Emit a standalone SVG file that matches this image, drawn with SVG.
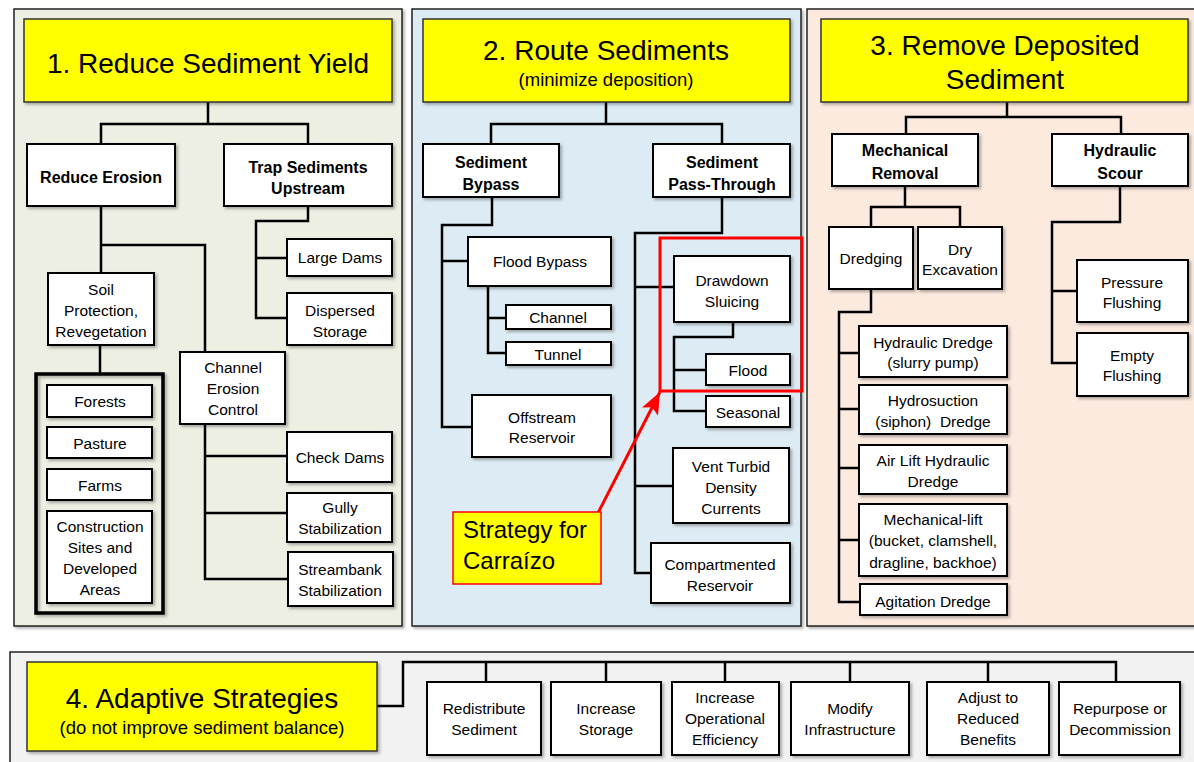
<svg xmlns="http://www.w3.org/2000/svg" width="1194" height="762" viewBox="0 0 1194 762">
<defs>
<filter id="sh" x="-10%" y="-10%" width="130%" height="130%"><feDropShadow dx="2" dy="2" stdDeviation="1.5" flood-color="#000" flood-opacity="0.3"/></filter>
<marker id="ah" markerUnits="userSpaceOnUse" markerWidth="24" markerHeight="20" refX="22" refY="9" orient="auto"><path d="M0,0 L22,9 L0,18 L5,9 Z" fill="#FF0000"/></marker>
<style>
.panel{stroke:#222;stroke-width:1.5;filter:url(#sh)}
.box{fill:#fff;stroke:#000;stroke-width:2;filter:url(#sh)}
.title{fill:#FFFF00;stroke:#333;stroke-width:1.5;filter:url(#sh)}
.conn{fill:none;stroke:#000;stroke-width:2.5;stroke-linejoin:miter}
text{font-family:"Liberation Sans",Arial,sans-serif;fill:#000;text-anchor:middle}
.t{font-size:15.5px}
.b{font-size:16px;font-weight:bold}
.h{font-size:28px}
.s{font-size:18.5px}
.st{font-size:24px;text-anchor:start}
</style>
</defs>
<g id="panels">
<rect class="panel" x="14" y="9" width="388" height="617" fill="#ECEFE2"/>
<rect class="panel" x="412" y="9" width="389" height="617" fill="#DDEBF4"/>
<rect class="panel" x="807" y="9" width="395" height="617" fill="#FCEADF"/>
<rect class="panel" x="10" y="652" width="1195" height="120" fill="#F2F2F2"/>
</g>
<g id="connectors">
<path class="conn" d="M208,102 V124 M101,144 V124 H308 V144"/>
<path class="conn" d="M101,206 V273 M101,245 H205 V352"/>
<path class="conn" d="M308,206 V221 H256 V318 H287 M256,258 H287"/>
<path class="conn" d="M100,345 V374"/>
<path class="conn" d="M205,424 V579 H288 M205,456 H287 M205,513 H287"/>
<path class="conn" d="M606,102 V124 M491,144 V124 H722 V144"/>
<path class="conn" d="M492,197 V225 H442 V427 H472 M442,261 H468"/>
<path class="conn" d="M488,286 V353 H506 M488,318 H506"/>
<path class="conn" d="M722,197 V233 H635 V573 H651 M635,287 H674 M635,486 H673"/>
<path class="conn" d="M733,322 V337 H674 V411 H706 M674,370 H706"/>
<path class="conn" d="M1007,102 V117 M906,134 V117 H1121 V134"/>
<path class="conn" d="M905,186 V207 M871,227 V207 H960 V227"/>
<path class="conn" d="M871,289 V312 H839 V602 H860 M839,353 H859 M839,409 H859 M839,468 H859 M839,540 H859"/>
<path class="conn" d="M1120,186 V222 H1052 V363 H1077 M1052,291 H1077"/>
<path class="conn" d="M377,706 H403 V662 H1116 V682 M486,662 V682 M606,662 V682 M725,662 V682 M850,662 V682 M988,662 V682"/>
</g>
<g id="t1"><rect class="title" x="24" y="19" width="368" height="83"/><text class="h" x="208" y="73">1. Reduce Sediment Yield</text></g>
<g id="reduce-erosion"><rect class="box" x="27" y="144" width="148" height="62"/><text class="b" x="101" y="183">Reduce Erosion</text></g>
<g id="trap"><rect class="box" x="224" y="144" width="168" height="62"/><text class="b" x="308" y="173">Trap Sediments</text><text class="b" x="308" y="194">Upstream</text></g>
<g id="large-dams"><rect class="box" x="287" y="239" width="105" height="37"/><text class="t" x="340" y="263">Large Dams</text></g>
<g id="dispersed"><rect class="box" x="287" y="293" width="105" height="52"/><text class="t" x="340" y="316">Dispersed</text><text class="t" x="340" y="337">Storage</text></g>
<g id="soil"><rect class="box" x="48" y="273" width="106" height="72"/><text class="t" x="101" y="295">Soil</text><text class="t" x="101" y="316">Protection,</text><text class="t" x="101" y="337">Revegetation</text></g>
<g id="landuse-group"><rect x="36" y="374" width="127" height="239" fill="none" stroke="#000" stroke-width="3.5" filter="url(#sh)"/></g>
<g id="forests"><rect class="box" x="47" y="385" width="105" height="32"/><text class="t" x="100" y="407">Forests</text></g>
<g id="pasture"><rect class="box" x="47" y="427" width="105" height="31"/><text class="t" x="100" y="449">Pasture</text></g>
<g id="farms"><rect class="box" x="47" y="469" width="105" height="31"/><text class="t" x="100" y="491">Farms</text></g>
<g id="construction"><rect class="box" x="47" y="511" width="105" height="92"/><text class="t" x="100" y="532">Construction</text><text class="t" x="100" y="553">Sites and</text><text class="t" x="100" y="574">Developed</text><text class="t" x="100" y="595">Areas</text></g>
<g id="channel-erosion"><rect class="box" x="180" y="352" width="105" height="72"/><text class="t" x="233" y="373">Channel</text><text class="t" x="233" y="394">Erosion</text><text class="t" x="233" y="415">Control</text></g>
<g id="check-dams"><rect class="box" x="287" y="432" width="105" height="50"/><text class="t" x="340" y="463">Check Dams</text></g>
<g id="gully"><rect class="box" x="287" y="493" width="105" height="49"/><text class="t" x="340" y="513">Gully</text><text class="t" x="340" y="534">Stabilization</text></g>
<g id="streambank"><rect class="box" x="288" y="552" width="105" height="54"/><text class="t" x="340" y="575">Streambank</text><text class="t" x="340" y="596">Stabilization</text></g>
<g id="t2"><rect class="title" x="423" y="19" width="367" height="83"/><text class="h" x="606" y="60">2. Route Sediments</text><text class="s" x="606" y="86">(minimize deposition)</text></g>
<g id="bypass"><rect class="box" x="423" y="144" width="136" height="53"/><text class="b" x="491" y="168">Sediment</text><text class="b" x="491" y="190">Bypass</text></g>
<g id="passthrough"><rect class="box" x="653" y="144" width="137" height="53"/><text class="b" x="722" y="168">Sediment</text><text class="b" x="722" y="190">Pass-Through</text></g>
<g id="flood-bypass"><rect class="box" x="468" y="237" width="143" height="49"/><text class="t" x="540" y="267">Flood Bypass</text></g>
<g id="channel"><rect class="box" x="506" y="305" width="105" height="24"/><text class="t" x="558" y="323">Channel</text></g>
<g id="tunnel"><rect class="box" x="506" y="342" width="105" height="23"/><text class="t" x="558" y="360">Tunnel</text></g>
<g id="offstream"><rect class="box" x="472" y="395" width="139" height="62"/><text class="t" x="542" y="423">Offstream</text><text class="t" x="542" y="443">Reservoir</text></g>
<g id="drawdown"><rect class="box" x="674" y="256" width="116" height="66"/><text class="t" x="732" y="286">Drawdown</text><text class="t" x="732" y="307">Sluicing</text></g>
<g id="flood"><rect class="box" x="706" y="354" width="84" height="31"/><text class="t" x="748" y="376">Flood</text></g>
<g id="seasonal"><rect class="box" x="706" y="396" width="84" height="31"/><text class="t" x="748" y="418">Seasonal</text></g>
<g id="vent"><rect class="box" x="673" y="448" width="116" height="75"/><text class="t" x="731" y="472">Vent Turbid</text><text class="t" x="731" y="493">Density</text><text class="t" x="731" y="514">Currents</text></g>
<g id="compartmented"><rect class="box" x="651" y="543" width="139" height="60"/><text class="t" x="720" y="570">Compartmented</text><text class="t" x="720" y="591">Reservoir</text></g>
<g id="highlight"><rect x="660" y="238" width="142" height="153" fill="none" stroke="#FF0000" stroke-width="3"/></g>
<g id="callout-arrow"><line x1="598" y1="513" x2="660" y2="392" stroke="#FF0000" stroke-width="3" marker-end="url(#ah)"/></g>
<g id="strategy"><rect x="453" y="512" width="148" height="72" fill="#FFFF00" stroke="#FF0000" stroke-width="1.5"/><text class="st" x="463" y="538">Strategy for</text><text class="st" x="463" y="569">Carraízo</text></g>
<g id="t3"><rect class="title" x="821" y="19" width="367" height="83"/><text class="h" x="1005" y="55">3. Remove Deposited</text><text class="h" x="1005" y="89">Sediment</text></g>
<g id="mechanical"><rect class="box" x="832" y="134" width="146" height="52"/><text class="b" x="905" y="156">Mechanical</text><text class="b" x="905" y="179">Removal</text></g>
<g id="hydraulic-scour"><rect class="box" x="1052" y="134" width="136" height="52"/><text class="b" x="1120" y="156">Hydraulic</text><text class="b" x="1120" y="179">Scour</text></g>
<g id="dredging"><rect class="box" x="829" y="227" width="84" height="62"/><text class="t" x="871" y="264">Dredging</text></g>
<g id="dry"><rect class="box" x="918" y="227" width="84" height="62"/><text class="t" x="960" y="255">Dry</text><text class="t" x="960" y="275">Excavation</text></g>
<g id="hyd-dredge"><rect class="box" x="859" y="326" width="148" height="51"/><text class="t" x="933" y="348">Hydraulic Dredge</text><text class="t" x="933" y="368">(slurry pump)</text></g>
<g id="hydrosuction"><rect class="box" x="859" y="385" width="148" height="49"/><text class="t" x="933" y="406">Hydrosuction</text><text class="t" x="933" y="427" xml:space="preserve">(siphon)  Dredge</text></g>
<g id="airlift"><rect class="box" x="859" y="445" width="148" height="49"/><text class="t" x="933" y="466">Air Lift Hydraulic</text><text class="t" x="933" y="487">Dredge</text></g>
<g id="mechlift"><rect class="box" x="859" y="504" width="148" height="72"/><text class="t" x="933" y="525">Mechanical-lift</text><text class="t" x="933" y="546">(bucket, clamshell,</text><text class="t" x="933" y="568">dragline, backhoe)</text></g>
<g id="agitation"><rect class="box" x="860" y="584" width="147" height="31"/><text class="t" x="933" y="607">Agitation Dredge</text></g>
<g id="pressure"><rect class="box" x="1077" y="260" width="111" height="62"/><text class="t" x="1132" y="288">Pressure</text><text class="t" x="1132" y="308">Flushing</text></g>
<g id="empty"><rect class="box" x="1077" y="333" width="111" height="63"/><text class="t" x="1132" y="361">Empty</text><text class="t" x="1132" y="381">Flushing</text></g>
<g id="t4"><rect class="title" x="27" y="662" width="350" height="89"/><text class="h" x="202" y="708">4. Adaptive Strategies</text><text class="s" x="202" y="734">(do not improve sediment balance)</text></g>
<g id="redistribute"><rect class="box" x="427" y="682" width="114" height="73"/><text class="t" x="484" y="714">Redistribute</text><text class="t" x="484" y="735">Sediment</text></g>
<g id="increase-storage"><rect class="box" x="551" y="682" width="110" height="73"/><text class="t" x="606" y="714">Increase</text><text class="t" x="606" y="735">Storage</text></g>
<g id="efficiency"><rect class="box" x="672" y="682" width="107" height="73"/><text class="t" x="725" y="703">Increase</text><text class="t" x="725" y="724">Operational</text><text class="t" x="725" y="745">Efficiency</text></g>
<g id="modify"><rect class="box" x="791" y="682" width="118" height="73"/><text class="t" x="850" y="714">Modify</text><text class="t" x="850" y="735">Infrastructure</text></g>
<g id="adjust"><rect class="box" x="927" y="682" width="122" height="73"/><text class="t" x="988" y="703">Adjust to</text><text class="t" x="988" y="724">Reduced</text><text class="t" x="988" y="745">Benefits</text></g>
<g id="repurpose"><rect class="box" x="1059" y="682" width="121" height="73"/><text class="t" x="1120" y="714">Repurpose or</text><text class="t" x="1120" y="735">Decommission</text></g>
</svg>
